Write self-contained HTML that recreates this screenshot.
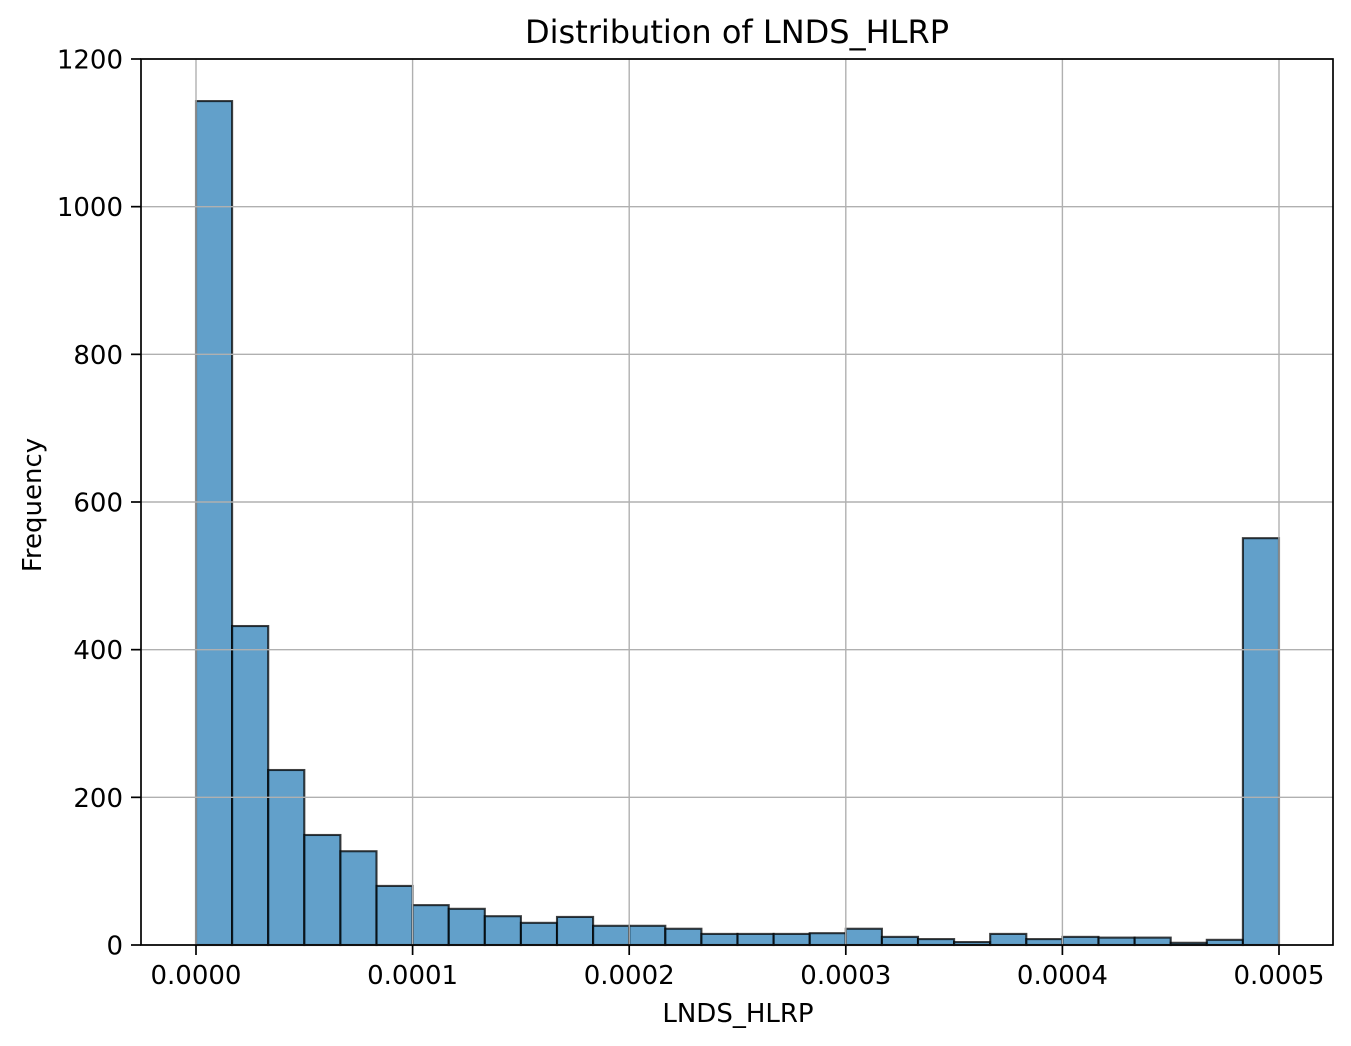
<!DOCTYPE html>
<html><head><meta charset="utf-8"><style>body{margin:0;background:#fff}svg{display:block;font-family:"DejaVu Sans","Liberation Sans",sans-serif}</style></head>
<body>
<svg id="chart" width="1351" height="1046" viewBox="0 0 1351 1046" xmlns="http://www.w3.org/2000/svg"></svg>
<script>
const counts=[1143,432,237,149,127,80,54,49,39,30,38,26,26,22,15,15,15,16,22,11,8,4,15,8,11,10,10,3,7,551];
const binStart=0, binEnd=0.0005;
const xTicks=[0,0.0001,0.0002,0.0003,0.0004,0.0005];
const xTickLabels=["0.0000","0.0001","0.0002","0.0003","0.0004","0.0005"];
const yTicks=[0,200,400,600,800,1000,1200];
const L=141,R=1333,T=59,B=945;
const x=v=>196+(v-binStart)/(binEnd-binStart)*(1279-196);
const y=v=>B-v/1200*(B-T);
const svg=document.getElementById('chart');
const NS='http://www.w3.org/2000/svg';
function mk(t,a,txt){const e=document.createElementNS(NS,t);for(const k in a)e.setAttribute(k,a[k]);if(txt!=null)e.textContent=txt;svg.appendChild(e);return e;}
// bars
const bw=(binEnd-binStart)/counts.length;
counts.forEach((c,i)=>{const x0=x(binStart+i*bw),x1=x(binStart+(i+1)*bw);
const r=mk('rect',{x:x0,y:y(c),width:x1-x0,height:y(0)-y(c),fill:'rgba(31,119,180,0.7)',stroke:'rgba(0,0,0,0.75)','stroke-width':2.1});

});
// grid (drawn above bars, as in matplotlib)
xTicks.forEach(v=>{const g=mk('line',{x1:x(v),x2:x(v),y1:T,y2:B,stroke:'#b0b0b0','stroke-width':1.4});

});
yTicks.forEach(v=>{const g=mk('line',{x1:L,x2:R,y1:y(v),y2:y(v),stroke:'#b0b0b0','stroke-width':1.4});

});
// frame
const f=mk('rect',{x:L,y:T,width:R-L,height:B-T,fill:'none',stroke:'#000','stroke-width':1.7});


// ticks
xTicks.forEach((v,i)=>{mk('line',{x1:x(v),x2:x(v),y1:B,y2:B+10,stroke:'#000','stroke-width':1.7});
const t=mk('text',{x:x(v),y:984,'text-anchor':'middle','font-size':26},xTickLabels[i]);

});
yTicks.forEach(v=>{mk('line',{x1:L-10,x2:L,y1:y(v),y2:y(v),stroke:'#000','stroke-width':1.7});
const t=mk('text',{x:123,y:y(v)+9.5,'text-anchor':'end','font-size':26},String(v));

});
const tt=mk('text',{x:737,y:43,'text-anchor':'middle','font-size':32},'Distribution of LNDS_HLRP');


const xl=mk('text',{x:738,y:1022,'text-anchor':'middle','font-size':26},'LNDS_HLRP');


const yl=mk('text',{x:41,y:505,'text-anchor':'middle','font-size':26,transform:'rotate(-90 41 505)'},'Frequency');


</script>
</body></html>
